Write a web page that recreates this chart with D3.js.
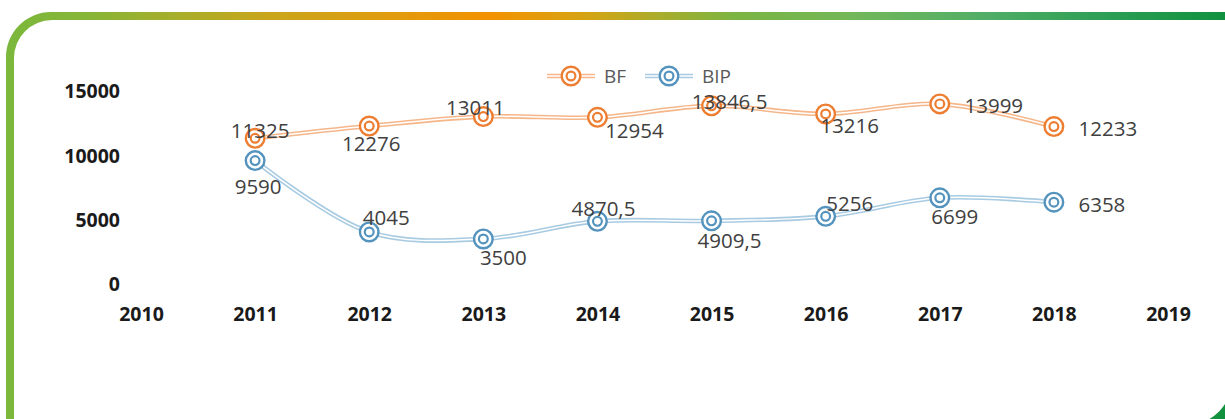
<!DOCTYPE html>
<html>
<head>
<meta charset="utf-8">
<script src="https://cdn.jsdelivr.net/npm/d3@7"></script>
<style>
  html, body { margin: 0; padding: 0; background: #fff; }
  svg { display: block; }
</style>
</head>
<body>
<svg id="chart" width="1225" height="419"></svg>
<script>
// Yearly values of the two series
const years = [2011, 2012, 2013, 2014, 2015, 2016, 2017, 2018];
const bfValues = [11325, 12276, 13011, 12954, 13846.5, 13216, 13999, 12233];
const bipValues = [9590, 4045, 3500, 4870.5, 4909.5, 5256, 6699, 6358];
const xTicks = [2010, 2011, 2012, 2013, 2014, 2015, 2016, 2017, 2018, 2019];
const yTicks = [0, 5000, 10000, 15000];

// Label placement (pixel offsets from each marker)
const bfLabelOffsets = [[5, -8], [2, 17], [-8, -10], [37, 13], [18, -5], [24, 11], [54, 1], [54, 1]];
const bipLabelOffsets = [[3, 25], [17, -15], [20, 18], [6, -13], [18, 19], [24, -13], [15, 18], [48, 2]];

const svg = d3.select("#chart");
const W = 1225, H = 419;

// Decorative frame with a horizontal colour gradient
const defs = svg.append("defs");
const grad = defs.append("linearGradient")
  .attr("id", "frameGrad")
  .attr("gradientUnits", "userSpaceOnUse")
  .attr("x1", 0).attr("y1", 0).attr("x2", W).attr("y2", 0);
[
  [0, "#7ab83c"], [0.07, "#86b537"], [0.22, "#c9a61c"], [0.4, "#f39200"],
  [0.48, "#d4a414"], [0.6, "#7bb542"], [0.7, "#72b75a"], [0.8, "#52ae66"],
  [0.9, "#2e9f55"], [1, "#11913f"]
].forEach(([o, c]) => grad.append("stop").attr("offset", o).attr("stop-color", c));

const outer = "M6,57 A45,45 0 0 1 51,12 H1400 V600 H6 Z";
const inner = "M52,20 H1232 V380 A45,45 0 0 1 1187,425 H14 V58 A38,38 0 0 1 52,20 Z";
svg.append("path")
  .attr("d", outer + " " + inner)
  .attr("fill-rule", "evenodd")
  .attr("fill", "url(#frameGrad)");

// Scales
const x = d3.scaleLinear().domain([2010, 2019]).range([141, 1168]);
const y = d3.scaleLinear().domain([0, 15000]).range([284, 91]);

// Axes (labels only)
const yAxis = d3.axisLeft(y).tickValues(yTicks).tickSize(0).tickPadding(0).tickFormat(d3.format("d"));
const yg = svg.append("g").attr("transform", "translate(120,0)").call(yAxis);
yg.select(".domain").remove();
yg.selectAll("text")
  .attr("font-family", "'Open Sans', sans-serif")
  .attr("font-weight", 700)
  .attr("font-size", 19.5)
  .attr("fill", "#1a1a1a")
  .attr("dy", "0.35em");

const xAxis = d3.axisBottom(x).tickValues(xTicks).tickSize(0).tickPadding(0).tickFormat(d3.format("d"));
const xg = svg.append("g").attr("transform", "translate(0,314)").call(xAxis);
xg.select(".domain").remove();
xg.selectAll("text")
  .attr("font-family", "'Open Sans', sans-serif")
  .attr("font-weight", 700)
  .attr("font-size", 19.5)
  .attr("fill", "#1a1a1a")
  .attr("dy", "0.35em");

const series = [
  { name: "BF", values: bfValues, offsets: bfLabelOffsets, line: "#f5b68a", marker: "#ed7d31" },
  { name: "BIP", values: bipValues, offsets: bipLabelOffsets, line: "#a8cbe2", marker: "#5393bd" }
];

const lineGen = d3.line()
  .x((d, i) => x(years[i]))
  .y(d => y(d))
  .curve(d3.curveCatmullRom.alpha(0.5));

function doubleLine(g, d, color) {
  g.append("path").attr("d", d).attr("fill", "none")
    .attr("stroke", color).attr("stroke-width", 4.6);
  g.append("path").attr("d", d).attr("fill", "none")
    .attr("stroke", "#fff").attr("stroke-width", 1.5);
}

function marker(g, cx, cy, color) {
  g.append("circle").attr("cx", cx).attr("cy", cy).attr("r", 9.3)
    .attr("fill", "#fff").attr("stroke", color).attr("stroke-width", 2.4);
  g.append("circle").attr("cx", cx).attr("cy", cy).attr("r", 4.4)
    .attr("fill", "#fff").attr("stroke", color).attr("stroke-width", 2.2);
}

const fmt = v => String(v).replace(".", ",");

series.forEach(s => {
  const g = svg.append("g");
  doubleLine(g, lineGen(s.values), s.line);
  s.values.forEach((v, i) => marker(g, x(years[i]), y(v), s.marker));
  s.values.forEach((v, i) => {
    g.append("text")
      .attr("x", x(years[i]) + s.offsets[i][0])
      .attr("y", y(v) + s.offsets[i][1])
      .attr("text-anchor", "middle")
      .attr("dominant-baseline", "central")
      .attr("font-family", "'Open Sans', sans-serif")
      .attr("font-size", 20.5)
      .attr("fill", "#404040")
      .text(fmt(v));
  });
});

// Legend
const legend = svg.append("g");
const legendItems = [
  { s: series[0], x0: 547 },
  { s: series[1], x0: 645 }
];
legendItems.forEach(({ s, x0 }) => {
  const ly = 76;
  doubleLine(legend, `M${x0},${ly} H${x0 + 48}`, s.line);
  marker(legend, x0 + 24, ly, s.marker);
  legend.append("text")
    .attr("x", x0 + 57)
    .attr("y", ly)
    .attr("dominant-baseline", "central")
    .attr("font-family", "'Open Sans', sans-serif")
    .attr("font-size", 19)
    .attr("fill", "#595959")
    .text(s.name);
});
</script>
</body>
</html>
